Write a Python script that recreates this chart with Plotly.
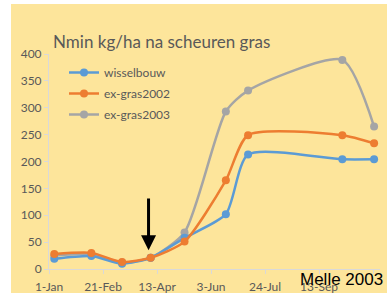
import plotly.graph_objects as go

# ---- data ----
dates = ["2003-01-06", "2003-02-10", "2003-03-11", "2003-04-07", "2003-05-09",
         "2003-06-17", "2003-07-08", "2003-10-05", "2003-11-04"]
wisselbouw = [19, 24, 10, 21, 58, 102, 213, 204, 204]
ex_gras2002 = [28, 30, 13, 21, 51, 165, 249, 249, 234]
ex_gras2003 = [25, 28, 12, 21, 68, 293, 332, 389, 265]
tick_dates = ["2003-01-01", "2003-02-21", "2003-04-13", "2003-06-03",
              "2003-07-24", "2003-09-13", "2003-11-03"]
tick_labels = ["1-Jan", "21-Feb", "13-Apr", "3-Jun", "24-Jul", "13-Sep", "3-Nov"]

BLUE = "#5B9BD5"
ORANGE = "#ED7D31"
GRAY = "#A5A5A5"
BG = "#FDE59B"
TXT = "#595959"
FONT = "Lato"

fig = go.Figure()

series = [
    ("ex-gras2003", ex_gras2003, GRAY, 3),
    ("wisselbouw", wisselbouw, BLUE, 1),
    ("ex-gras2002", ex_gras2002, ORANGE, 2),
]
for name, vals, col, rank in series:
    fig.add_trace(go.Scatter(
        x=dates, y=vals, name=name, mode="lines+markers",
        line=dict(color=col, width=2.5, shape="spline", smoothing=0.65),
        marker=dict(color=col, size=8),
        legendrank=rank, legendgroup=name,
    ))

L, R, T, B = 49, 7, 54, 24
W, H = 387, 293
pw = W - L - R
ph = H - T - B

fig.update_layout(
    width=W, height=H,
    margin=dict(l=L, r=R, t=T, b=B, autoexpand=False),
    paper_bgcolor="white",
    plot_bgcolor="rgba(0,0,0,0)",
    font=dict(family=FONT, color=TXT, size=12),
    title=dict(text="Nmin kg/ha na scheuren gras", x=53 / W, xanchor="left",
               y=(H - 42) / H, yanchor="middle", yref="container",
               font=dict(family=FONT, size=17, color=TXT)),
    showlegend=True,
    legend=dict(x=(64 - L) / pw, xanchor="left", y=(T + ph - 58) / ph, yanchor="top",
                bgcolor="rgba(0,0,0,0)", font=dict(family=FONT, size=12, color=TXT),
                traceorder="grouped", tracegroupgap=2),
    xaxis=dict(
        type="date", automargin=False,
        range=["2003-01-01", "2003-11-09 14:00"],
        tickvals=tick_dates, ticktext=tick_labels,
        showgrid=False, zeroline=False,
        showline=True, linecolor="#D9D9D9", linewidth=1,
        ticks="outside", ticklen=4, tickcolor="#D9D9D9",
        ticklabelstandoff=3,
        tickfont=dict(family=FONT, size=12, color=TXT),
    ),
    yaxis=dict(
        range=[0, 400], dtick=50, automargin=False,
        showgrid=False, zeroline=False,
        showline=True, linecolor="#D9D9D9", linewidth=1,
        ticks="outside", ticklen=4, tickcolor="#D9D9D9",
        tickfont=dict(family=FONT, size=12, color=TXT),
    ),
    shapes=[dict(type="rect", xref="paper", yref="paper",
                 x0=(11 - L) / pw, x1=(W - L) / pw,
                 y0=(T + ph - H) / ph, y1=(T + ph - 4) / ph,
                 fillcolor=BG, line=dict(width=0), layer="below")],
    annotations=[
        dict(x="2003-04-05", y=35, ax="2003-04-05", ay=134,
             xref="x", yref="y", axref="x", ayref="y",
             showarrow=True, arrowhead=2, arrowsize=1, arrowwidth=3,
             arrowcolor="black", text=""),
        dict(x=(341 - L) / pw, y=(T + ph - 279) / ph, xref="paper", yref="paper",
             xanchor="center", yanchor="middle", showarrow=False,
             text="Melle 2003",
             font=dict(family="Liberation Sans", size=17, color="black")),
    ],
)

fig.write_html("out.html", config={"displayModeBar": False},
               post_script="document.body.style.margin='0';document.body.style.overflow='hidden';")
